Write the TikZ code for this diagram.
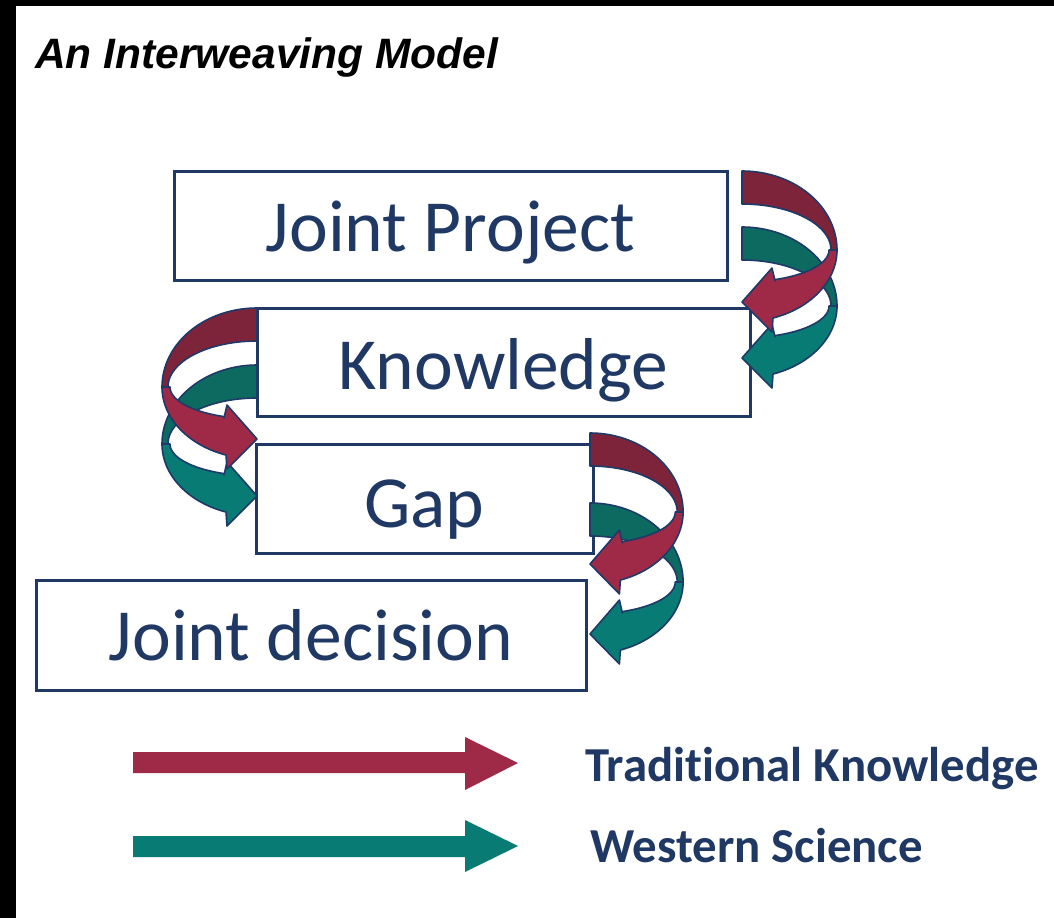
\documentclass[tikz,border=0pt]{standalone}
\usepackage{fontspec}
\setmainfont{Carlito}[Ligatures={NoCommon}]
\newfontfamily\titlefont{Liberation Sans}
\definecolor{navy}{HTML}{1F3864}
\definecolor{outl}{HTML}{1F3A68}
\definecolor{tkback}{HTML}{7D233A}
\definecolor{tkfront}{HTML}{9E2A48}
\definecolor{wsback}{HTML}{0C6A60}
\definecolor{wsfront}{HTML}{077B74}
\tikzset{
  box/.style={draw=navy, line width=3pt, fill=white, inner sep=0pt, text=navy,
    font=\fontsize{73.5}{88}\selectfont},
  ribbon/.style={draw=outl, line width=1.6pt, line join=round},
  legtext/.style={text=navy, font=\fontsize{48.8}{58}\selectfont\bfseries, inner sep=0pt},
}
\newcommand\backpath{plot[domain=90:0,samples=40] ({95*cos(\x)},{79-79*sin(\x)}) -- plot[domain=0:90,samples=40] ({89*cos(\x)},{79-46*sin(\x)}) -- cycle}
\newcommand\frontpath{(33,110) -- (30,97) -- (0,131) -- (30,161) -- (31,147) -- plot[domain=71:0,samples=40] ({95*cos(\x)},{79+72*sin(\x)}) -- plot[domain=0:68,samples=40] ({87*cos(\x)},{79+32*sin(\x)}) -- cycle}
\newcommand\weave[4]{%
  \begin{scope}[shift={(#1,#2)}, xscale=#3]
    \begin{scope}[shift={(0,#4)}]
      \filldraw[ribbon, fill=wsback] \backpath;
      \filldraw[ribbon, fill=wsfront] \frontpath;
    \end{scope}
    \filldraw[ribbon, fill=tkback] \backpath;
    \filldraw[ribbon, fill=tkfront] \frontpath;
  \end{scope}}
\begin{document}
\begin{tikzpicture}[x=1pt,y=-1pt]
\fill[black] (0,0) rectangle (1054,918);
\fill[white] (16,6) rectangle (1054,918);
\useasboundingbox (0,0) rectangle (1054,918);

\node[anchor=base west, inner sep=0pt] (title) at (35,68)
  {\titlefont\fontsize{42.5}{50}\selectfont\bfseries\itshape An Interweaving Model};

\node[box, minimum width=553pt, minimum height=109pt, text height=52pt, text depth=0pt] (jp) at (450.5,225.5) {Joint Project};
\node[box, minimum width=493pt, minimum height=108pt, text height=54pt, text depth=0pt] (kn) at (503.5,362) {Knowledge};
\node[box, minimum width=337pt, minimum height=109pt, text height=57pt, text depth=0pt] (gap) at (424.5,498.5) {Gap};
\node[box, minimum width=550pt, minimum height=110pt, text height=51pt, text depth=0pt] (jd) at (311,635) {Joint decision};

\weave{742}{171}{1}{56}
\weave{257}{308}{-1}{57}
\weave{590}{433}{0.98}{70}

% legend
\fill[tkfront] (133,752) -- (465,752) -- (465,737) -- (518,763) -- (465,790) -- (465,773) -- (133,773) -- cycle;
\fill[wsfront] (133,836) -- (465,836) -- (465,820) -- (518,846) -- (465,872) -- (465,857) -- (133,857) -- cycle;
\node[legtext, anchor=base west] (tk) at (585,781) {Traditional Knowledge};
\node[legtext, anchor=base west] (ws) at (590,862) {Western Science};
\end{tikzpicture}
\end{document}
